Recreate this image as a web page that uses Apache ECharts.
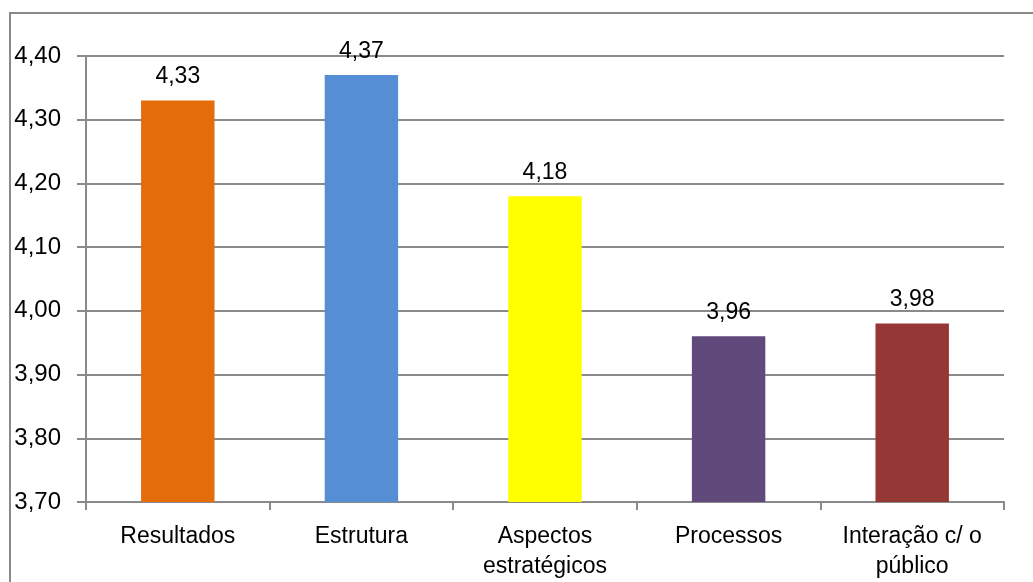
<!DOCTYPE html>
<html>
<head>
<meta charset="utf-8">
<script src="https://cdn.jsdelivr.net/npm/echarts@6/dist/echarts.min.js"></script>
<style>
  html, body { margin: 0; padding: 0; background: #fff; }
  #chart { width: 1033px; height: 582px; }
</style>
</head>
<body>
<div id="chart"></div>
<script>
// category names (line breaks as in the original chart)
const categories = ['Resultados', 'Estrutura', 'Aspectos\nestratégicos', 'Processos', 'Interação c/ o\npúblico'];
const values = [4.33, 4.37, 4.18, 3.96, 3.98];
const barColors = ['#E46C0A', '#558ED5', '#FFFF00', '#604A7B', '#953735'];

const yMin = 3.7, yMax = 4.4, yStep = 0.1;
const font = 'Liberation Sans';
const comma = v => v.toFixed(2).replace('.', ',');

const chart = echarts.init(document.getElementById('chart'));
chart.setOption({
    animation: false,
    backgroundColor: '#fff',
    textStyle: { fontFamily: font },
    graphic: [{
        type: 'rect',
        shape: { x: 10, y: 13, width: 1200, height: 800 },
        style: { fill: 'none', stroke: '#8a8a8a', lineWidth: 2 },
        silent: true
    }],
    grid: { left: 86, right: 29, top: 56, bottom: 80, containLabel: false },
    xAxis: {
        type: 'category',
        data: categories,
        axisLine: { lineStyle: { color: '#8a8a8a', width: 2 } },
        axisTick: { show: true, length: 8, lineStyle: { color: '#8a8a8a', width: 2 } },
        axisLabel: { color: '#000', fontSize: 23, margin: 20, lineHeight: 30, interval: 0 }
    },
    yAxis: {
        type: 'value',
        min: yMin, max: yMax, interval: yStep,
        axisLine: { show: true, lineStyle: { color: '#8a8a8a', width: 2 } },
        axisTick: { show: true, length: 9, lineStyle: { color: '#8a8a8a', width: 2 } },
        splitLine: { lineStyle: { color: '#8a8a8a', width: 2 } },
        axisLabel: { color: '#000', fontSize: 24, margin: 25, formatter: comma }
    },
    series: [{
        type: 'bar',
        barWidth: '40%',
        data: values.map((v, i) => ({ value: v, itemStyle: { color: barColors[i] } })),
        label: {
            show: true, position: 'top', distance: 12,
            color: '#000', fontSize: 23,
            formatter: p => comma(p.value)
        }
    }]
});
</script>
</body>
</html>
